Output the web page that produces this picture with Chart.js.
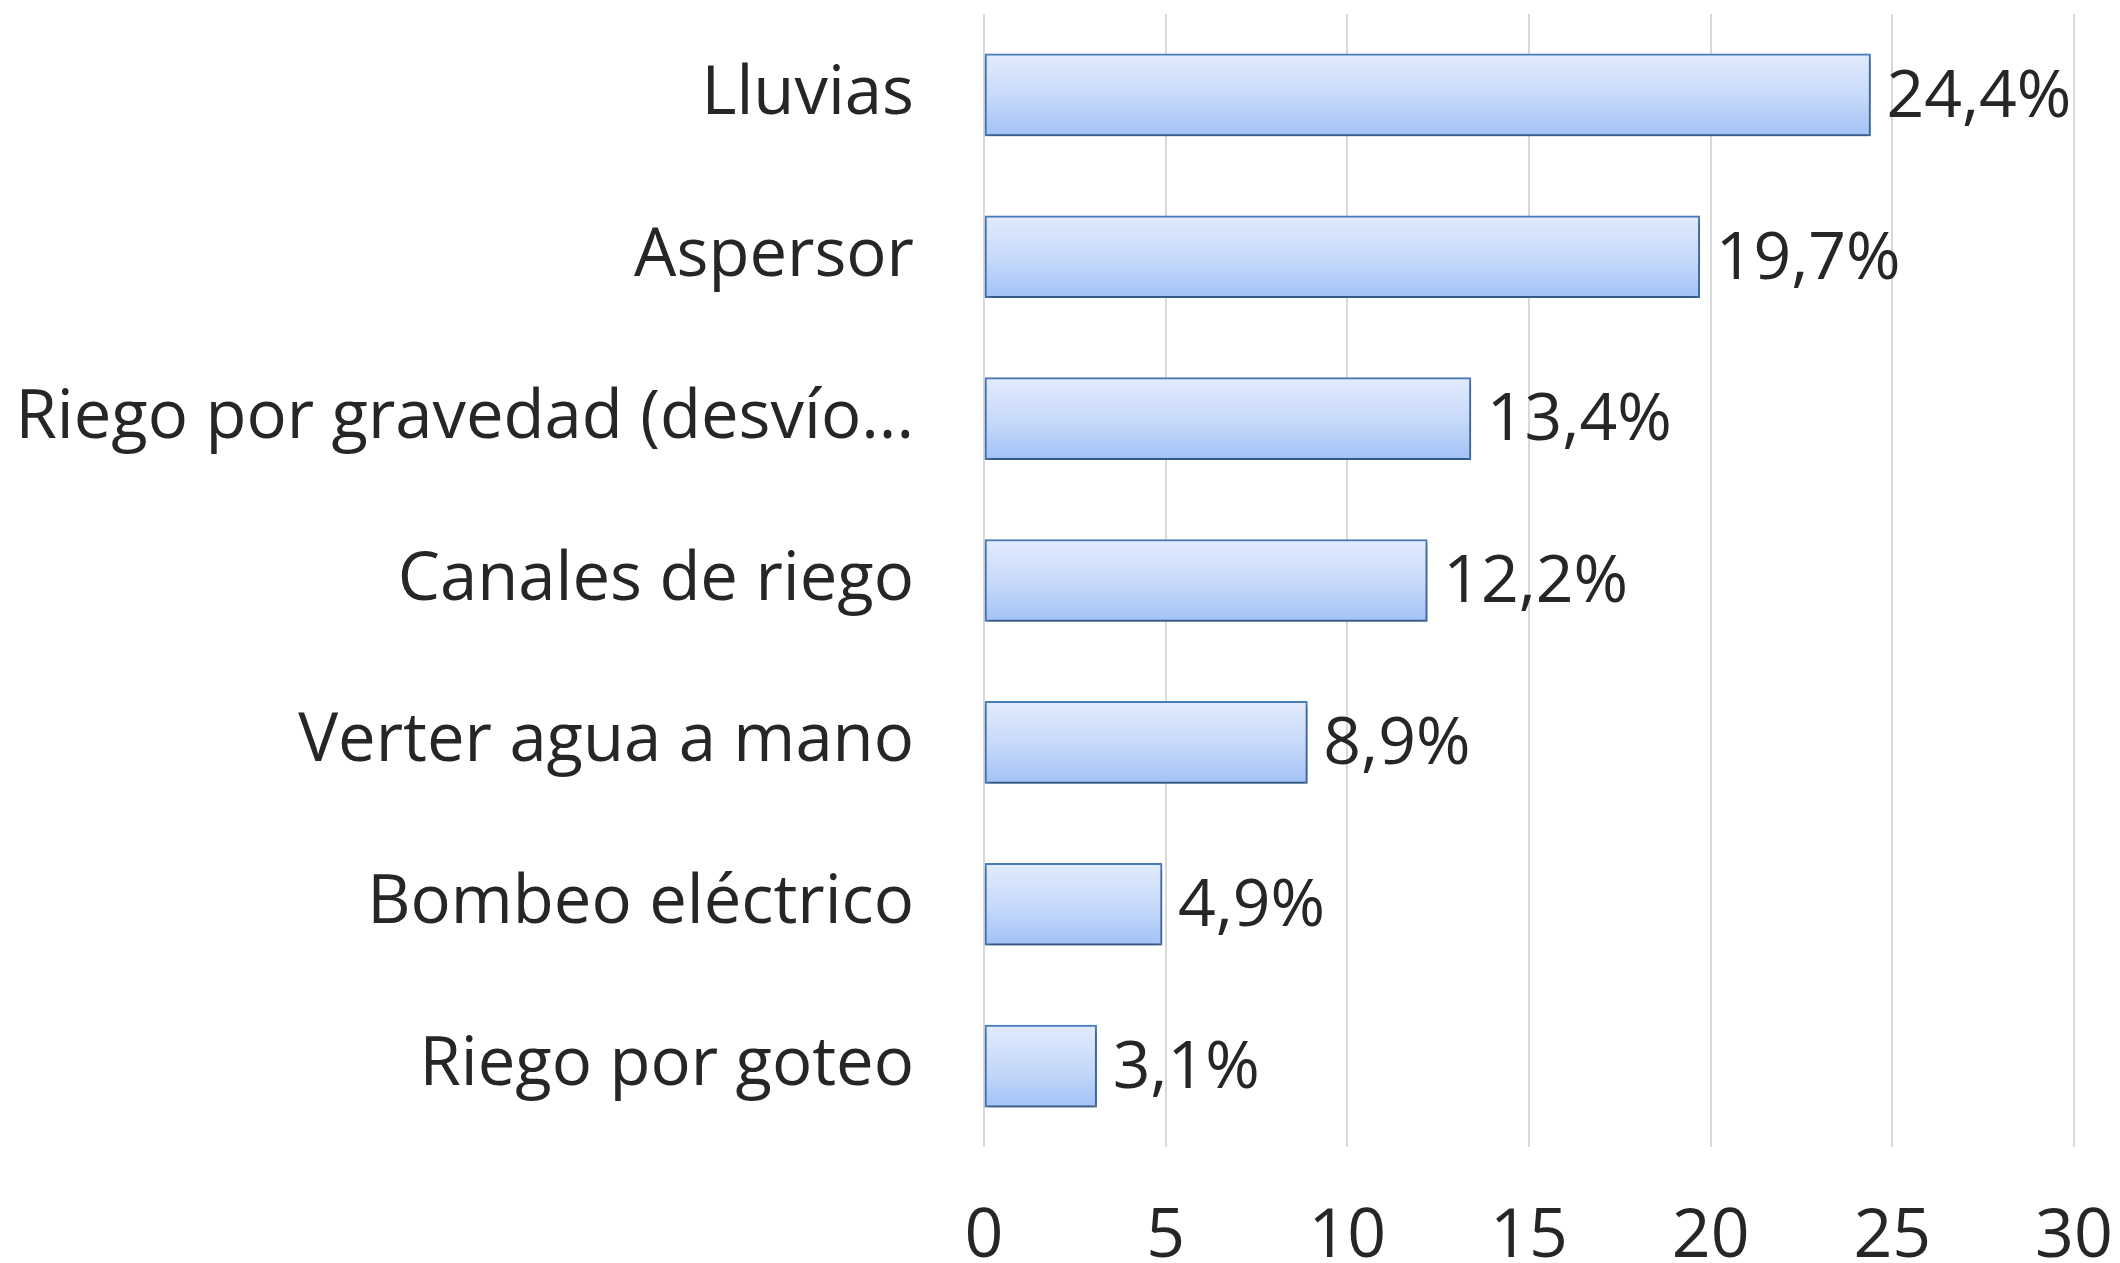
<!DOCTYPE html>
<html lang="es">
<head>
    <meta charset="UTF-8">
    <title>Fuentes de riego</title>
    <script src="https://cdn.jsdelivr.net/npm/chart.js"></script>
    <style>
        body { margin: 0; background: #fff; }
    </style>
</head>
<body>
    <canvas id="chart" width="2120" height="1263"></canvas>

    <script>
        const categories = [
            'Lluvias',
            'Aspersor',
            'Riego por gravedad (desvío...',
            'Canales de riego',
            'Verter agua a mano',
            'Bombeo eléctrico',
            'Riego por goteo'
        ];
        const values = [24.4, 19.7, 13.4, 12.2, 8.9, 4.9, 3.1];
        const xTicks = [0, 5, 10, 15, 20, 25, 30];

        const FONT = "'Open Sans', sans-serif";
        const TEXT = '#262626';

        function barFill(ctx) {
            const chart = ctx.chart;
            const y = chart.scales.y;
            if (!y || !chart.chartArea) return '#c4d8f8';
            const c = y.getPixelForValue(ctx.dataIndex);
            const half = 41;
            const g = chart.ctx.createLinearGradient(0, c - half, 0, c + half);
            g.addColorStop(0, '#e2ebfd');
            g.addColorStop(0.5, '#c8dafa');
            g.addColorStop(1, '#a3c2f6');
            return g;
        }

        // no extra room for first/last tick labels, layout padding decides
        function noLabelPadding(scale) {
            scale.paddingTop = 0;
            scale.paddingBottom = 0;
            scale.paddingLeft = 0;
            scale.paddingRight = 0;
        }

        // shadow under the bars
        const barShadow = {
            id: 'barShadow',
            beforeDatasetDraw(chart) {
                const ctx = chart.ctx;
                ctx.save();
                ctx.shadowColor = 'rgba(0,0,0,0.35)';
                ctx.shadowBlur = 6;
                ctx.shadowOffsetY = 4;
                ctx.shadowOffsetX = 1;
            },
            afterDatasetDraw(chart) {
                chart.ctx.restore();
            }
        };

        // value labels at the end of each bar
        const valueLabels = {
            id: 'valueLabels',
            afterDatasetsDraw(chart) {
                const ctx = chart.ctx;
                const meta = chart.getDatasetMeta(0);
                ctx.save();
                ctx.font = `66px ${FONT}`;
                ctx.fillStyle = TEXT;
                ctx.textAlign = 'left';
                ctx.textBaseline = 'middle';
                meta.data.forEach((bar, i) => {
                    const txt = values[i].toFixed(1).replace('.', ',') + '%';
                    ctx.fillText(txt, bar.x + 16, bar.y + 3);
                });
                ctx.restore();
            }
        };

        new Chart(document.getElementById('chart').getContext('2d'), {
            type: 'bar',
            data: {
                labels: categories,
                datasets: [{
                    data: values,
                    backgroundColor: barFill,
                    borderColor: '#4a7dbd',
                    borderWidth: 2,
                    borderSkipped: false,
                    barThickness: 82
                }]
            },
            options: {
                indexAxis: 'y',
                responsive: false,
                animation: false,
                layout: { padding: { top: 14, right: 46, left: 0, bottom: 0 } },
                plugins: {
                    legend: { display: false },
                    tooltip: { enabled: false }
                },
                scales: {
                    x: {
                        min: 0,
                        max: 30,
                        afterBuildTicks(scale) {
                            scale.ticks = xTicks.map(v => ({ value: v }));
                        },
                        afterFit(scale) {
                            scale.height = 116;
                            noLabelPadding(scale);
                        },
                        grid: { color: '#d9d9d9', lineWidth: 2, drawTicks: false },
                        border: { display: false },
                        ticks: {
                            padding: 50,
                            color: TEXT,
                            font: { family: FONT, size: 68 }
                        }
                    },
                    y: {
                        afterFit(scale) {
                            scale.width = 984;
                            noLabelPadding(scale);
                        },
                        grid: { display: false, drawTicks: false },
                        border: { display: false },
                        ticks: {
                            padding: 70,
                            color: TEXT,
                            font: { family: FONT, size: 67 }
                        }
                    }
                }
            },
            plugins: [barShadow, valueLabels]
        });
    </script>
</body>
</html>
